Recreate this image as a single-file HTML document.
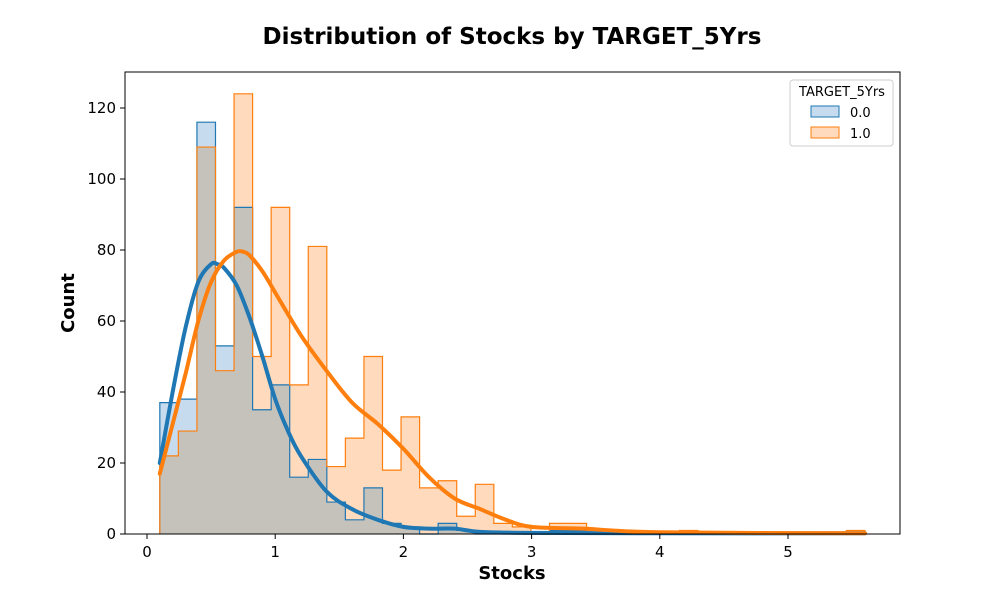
<!DOCTYPE html>
<html><head><meta charset="utf-8"><style>
body{margin:0;background:#fff;font-family:"Liberation Sans","DejaVu Sans",sans-serif}
</style></head><body>
<svg id="chart" width="1000" height="600" xmlns="http://www.w3.org/2000/svg" style="font-family:'DejaVu Sans','Liberation Sans',sans-serif">
<rect width="1000" height="600" fill="#fff"/>
<text x="512" y="44" text-anchor="middle" font-size="23" font-weight="bold">Distribution of Stocks by TARGET_5Yrs</text>
<g id="plot"></g>
<rect x="125" y="72" width="775" height="462" fill="none" stroke="#000" stroke-width="1"/>
<g id="axes" font-size="15"></g>
<text x="512" y="579" text-anchor="middle" font-size="18" font-weight="bold">Stocks</text>
<text transform="translate(74,303) rotate(-90)" text-anchor="middle" font-size="18" font-weight="bold">Count</text>
<g>
<rect x="790" y="80" width="103" height="66" rx="3" fill="#fff" stroke="#ccc"/>
<text x="842" y="96" text-anchor="middle" font-size="13">TARGET_5Yrs</text>
<rect x="811" y="106" width="28" height="11" fill="#c6dbed" stroke="#1f77b4"/>
<text x="850" y="117" font-size="13">0.0</text>
<rect x="811" y="127" width="28" height="11" fill="#ffdabc" stroke="#ff7f0e"/>
<text x="850" y="138" font-size="13">1.0</text>
</g>
</svg>
<script>
const binStart = 0.1;
const binWidth = 0.14474;
const countsNo = [37,38,116,53,92,35,42,16,21,9,4,13,3,2,0,3,1,0,0,0,0,1,1,0,0,0,0,0,0,0,0,0,0,0,0,0,0,0];
const countsYes = [22,29,109,46,124,50,92,42,81,19,27,50,18,33,13,15,5,14,3,2,0,3,3,1,0,0,0,0,1,0,0,0,0,0,0,0,0,1];
const kdeX0 = [0.1,0.2,0.3,0.4,0.5,0.55,0.6,0.7,0.8,0.9,1.0,1.1,1.2,1.4,1.6,1.8,2.0,2.2,2.4,2.6,3.0,4.0,5.6];
const kdeY0 = [20,40,58,71,76,76,75,70,61,50,38,29,22,12,7,4,2,1.5,1.5,0.6,0.3,0.2,0.2];
const kdeX1 = [0.1,0.2,0.3,0.4,0.5,0.6,0.7,0.75,0.8,0.9,1.0,1.2,1.4,1.6,1.8,2.0,2.2,2.4,2.6,2.8,3.0,3.4,4.0,5.6];
const kdeY1 = [17,31,45,60,71,77,79.5,79.5,78.5,74,68,56,46,37,31,24,16,10,7,4,2,1.5,0.5,0.2];
const xTicks = [0,1,2,3,4,5];
const yTicks = [0,20,40,60,80,100,120];

const X = v => 147 + v*128.2;
const Y = v => 534 - v*3.55;
const NS='http://www.w3.org/2000/svg';
const plot=document.getElementById('plot'), axes=document.getElementById('axes');
function mk(tag,attrs,parent){const e=document.createElementNS(NS,tag);for(const k in attrs)e.setAttribute(k,attrs[k]);parent.appendChild(e);return e;}
function stepPath(counts,close){
  let d=`M${X(binStart)},${Y(0)}`;
  counts.forEach((c,i)=>{const x0=X(binStart+i*binWidth),x1=X(binStart+(i+1)*binWidth);d+=`L${x0},${Y(c)}L${x1},${Y(c)}`;});
  d+=`L${X(binStart+counts.length*binWidth)},${Y(0)}`;
  if(close)d+='Z';return d;
}
const overlap=countsNo.map((c,i)=>Math.min(c,countsYes[i]));
let e;
e=mk('path',{d:stepPath(countsNo,true),fill:'#c6dbed'},plot);


e=mk('path',{d:stepPath(countsYes,true),fill:'#ffdabc'},plot);


e=mk('path',{d:stepPath(overlap,true),fill:'#c5c2bb'},plot);


e=mk('path',{d:stepPath(countsNo,false),fill:'none',stroke:'#1f77b4','stroke-width':1.2},plot);


e=mk('path',{d:stepPath(countsYes,false),fill:'none',stroke:'#ff7f0e','stroke-width':1.2},plot);


function smooth(xs,ys){
  const p=xs.map((x,i)=>[X(x),Y(ys[i])]);let d=`M${p[0][0]},${p[0][1]}`;
  for(let i=0;i<p.length-1;i++){const p0=p[Math.max(0,i-1)],p1=p[i],p2=p[i+1],p3=p[Math.min(p.length-1,i+2)];
    d+=`C${p1[0]+(p2[0]-p0[0])/6},${p1[1]+(p2[1]-p0[1])/6} ${p2[0]-(p3[0]-p1[0])/6},${p2[1]-(p3[1]-p1[1])/6} ${p2[0]},${p2[1]}`;}
  return d;
}
e=mk('path',{d:smooth(kdeX0,kdeY0),fill:'none',stroke:'#1f77b4','stroke-width':4,'stroke-linecap':'round'},plot);


e=mk('path',{d:smooth(kdeX1,kdeY1),fill:'none',stroke:'#ff7f0e','stroke-width':4,'stroke-linecap':'round'},plot);


xTicks.forEach(t=>{
  mk('line',{x1:X(t),x2:X(t),y1:534,y2:539,stroke:'#000'},axes);
  e=mk('text',{x:X(t),y:557,'text-anchor':'middle'},axes);e.textContent=t;
  
  
});
yTicks.forEach(t=>{
  mk('line',{x1:120,x2:125,y1:Y(t),y2:Y(t),stroke:'#000'},axes);
  e=mk('text',{x:116,y:Y(t)+5,'text-anchor':'end'},axes);e.textContent=t;
  
  
});
</script>
</body></html>
